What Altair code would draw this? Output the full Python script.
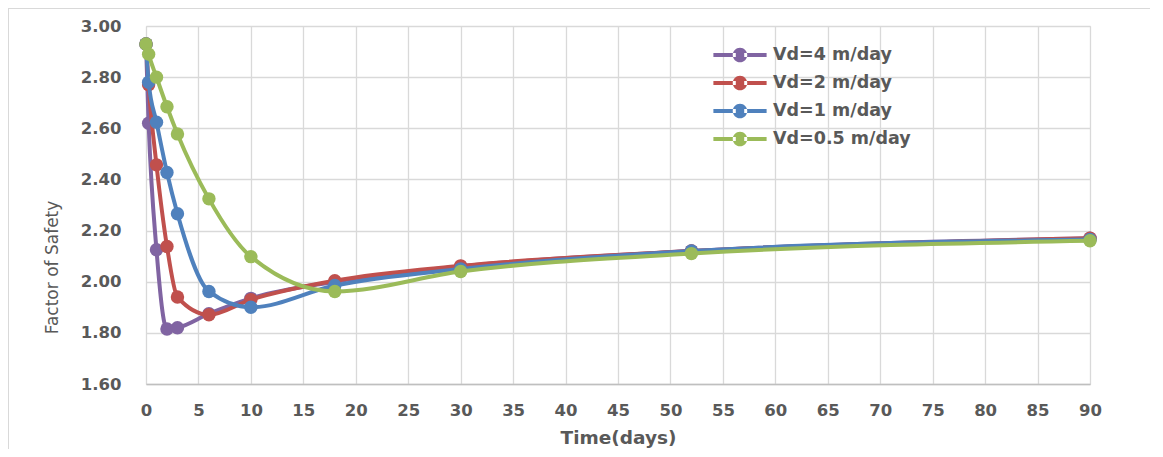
import altair as alt
import pandas as pd

times = [0, 0.25, 1, 2, 3, 6, 10, 18, 30, 52, 90]
series_names = ["Vd=4 m/day", "Vd=2 m/day", "Vd=1 m/day", "Vd=0.5 m/day"]
vd4 = [2.93, 2.62, 2.125, 1.815, 1.82, 1.875, 1.935, 2.00, 2.06, 2.12, 2.17]
vd2 = [2.93, 2.77, 2.457, 2.138, 1.94, 1.871, 1.93, 2.004, 2.062, 2.12, 2.17]
vd1 = [2.93, 2.78, 2.624, 2.427, 2.266, 1.962, 1.90, 1.985, 2.05, 2.12, 2.165]
vd05 = [2.93, 2.89, 2.80, 2.684, 2.578, 2.324, 2.098, 1.962, 2.04, 2.11, 2.16]
colors = ["#8064A2", "#C0504D", "#4F81BD", "#9BBB59"]

x_ticks = list(range(0, 95, 5))
y_ticks = [1.6, 1.8, 2.0, 2.2, 2.4, 2.6, 2.8, 3.0]

rows = []
for name, vals in zip(series_names, [vd4, vd2, vd1, vd05]):
    for t, v in zip(times, vals):
        rows.append({"series": name, "time": t, "fos": v})
df = pd.DataFrame(rows)

FONT = "DejaVu Sans"
GRAY = "#595959"

x = alt.X(
    "time:Q",
    scale=alt.Scale(domain=[0, 90], nice=False),
    axis=alt.Axis(
        values=x_ticks, title="Time(days)", grid=True, gridColor="#d9d9d9", gridWidth=1.3,
        domainColor="#bfbfbf", domainWidth=1.3, ticks=False, labelPadding=18,
        labelFont=FONT, labelFontSize=16.5, labelFontWeight="bold", labelColor=GRAY,
        labelFlush=False, labelOverlap=False,
        titleFont=FONT, titleFontSize=18.5, titleFontWeight="bold", titleColor=GRAY,
        titleY=53, titleBaseline="middle",
    ),
)
y = alt.Y(
    "fos:Q",
    scale=alt.Scale(domain=[1.6, 3.0], nice=False, zero=False),
    axis=alt.Axis(
        values=y_ticks, format=".2f", title="Factor of Safety", grid=True, gridColor="#d9d9d9",
        gridWidth=1.3, domain=False, ticks=False, labelPadding=25,
        labelFont=FONT, labelFontSize=16.5, labelFontWeight="bold", labelColor=GRAY,
        labelFlush=False, labelOverlap=False,
        titleFont=FONT, titleFontSize=17, titleFontWeight="normal", titleColor=GRAY,
        titleX=-94, titleY=241, titleBaseline="middle", titleAlign="center",
    ),
)

PATH = ("M-1.9,-0.14H-0.3V0.14H-1.9Z M0.3,-0.14H1.9V0.14H0.3Z "
        "M-0.52,0A0.52,0.52,0,1,0,0.52,0A0.52,0.52,0,1,0,-0.52,0Z")

legend = alt.Legend(
    orient="none", legendX=580, legendY=15, title=None, symbolType=PATH, symbolSize=784,
    symbolStrokeWidth=0, labelOffset=19, labelFont=FONT, labelFontSize=17.5,
    labelFontWeight="bold", labelColor=GRAY, rowPadding=5, padding=0,
)
color_scale = alt.Scale(domain=series_names, range=colors)
color = alt.Color("series:N", scale=color_scale, legend=legend)

border_top = alt.Chart(df).mark_rule(color="#d9d9d9", strokeWidth=1.5).encode(
    x=alt.value(-138), x2=alt.value(1100), y=alt.value(-18)
)
border_left = alt.Chart(df).mark_rule(color="#d9d9d9", strokeWidth=1.5).encode(
    x=alt.value(-138), y=alt.value(-18), y2=alt.value(460)
)

layers = [border_top, border_left]
for name in series_names:
    base = alt.Chart(df).transform_filter(alt.datum.series == name)
    line = base.mark_line(strokeWidth=4, interpolate="monotone").encode(x=x, y=y, color=color)
    pts = base.mark_point(filled=True, size=180, opacity=1).encode(x=x, y=y, color=color)
    layers += [line, pts]

chart = alt.layer(*layers).properties(
    width=944, height=358,
    autosize=alt.AutoSizeParams(type="none"),
    padding={"left": 138, "top": 18, "right": 60, "bottom": 65},
).configure_view(stroke=None).configure(background="white")

chart.save("out.html", embed_options={"renderer": "svg", "actions": False})
